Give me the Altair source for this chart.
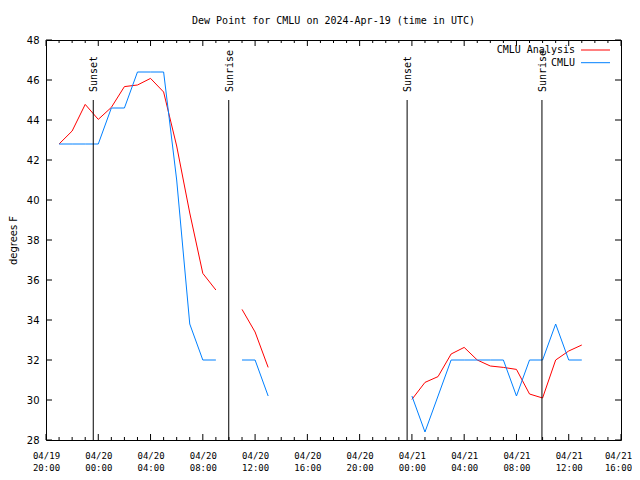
import altair as alt
import pandas as pd

chart_title = "Dew Point for CMLU on 2024-Apr-19 (time in UTC)"
y_title = "degrees F"
series_names = ["CMLU Analysis", "CMLU"]
series_colors = ["#ff0000", "#0080ff"]

times = [
    "2024-04-19T21:00:00Z", "2024-04-19T22:00:00Z", "2024-04-19T23:00:00Z",
    "2024-04-20T00:00:00Z", "2024-04-20T01:00:00Z", "2024-04-20T02:00:00Z",
    "2024-04-20T03:00:00Z", "2024-04-20T04:00:00Z", "2024-04-20T05:00:00Z",
    "2024-04-20T06:00:00Z", "2024-04-20T07:00:00Z", "2024-04-20T08:00:00Z",
    "2024-04-20T09:00:00Z",
    "2024-04-20T11:00:00Z", "2024-04-20T12:00:00Z", "2024-04-20T13:00:00Z",
    "2024-04-21T00:00:00Z", "2024-04-21T01:00:00Z", "2024-04-21T02:00:00Z",
    "2024-04-21T03:00:00Z", "2024-04-21T04:00:00Z", "2024-04-21T05:00:00Z",
    "2024-04-21T06:00:00Z", "2024-04-21T07:00:00Z", "2024-04-21T08:00:00Z",
    "2024-04-21T09:00:00Z", "2024-04-21T10:00:00Z", "2024-04-21T11:00:00Z",
    "2024-04-21T12:00:00Z", "2024-04-21T13:00:00Z",
]
analysis = [
    42.8, 43.45, 44.78, 44.03, 44.63, 45.67, 45.75, 46.08, 45.4, 42.7, 39.35, 36.33, 35.5,
    34.53, 33.4, 31.63,
    30.03, 30.88, 31.17, 32.3, 32.63, 32.0, 31.7, 31.63, 31.53, 30.3, 30.1, 32.0, 32.45, 32.75,
]
observed = [
    42.8, 42.8, 42.8, 42.8, 44.6, 44.6, 46.4, 46.4, 46.4, 41.0, 33.8, 32.0, 32.0,
    32.0, 32.0, 30.2,
    30.2, 28.4, 30.2, 32.0, 32.0, 32.0, 32.0, 32.0, 30.2, 32.0, 32.0, 33.8, 32.0, 32.0,
]

sun_labels = ["Sunset", "Sunrise", "Sunset", "Sunrise"]
sun_times = ["2024-04-19T23:37:00Z", "2024-04-20T09:59:00Z",
             "2024-04-20T23:38:00Z", "2024-04-21T09:57:00Z"]
sun_line_top = 45

x_start = "2024-04-19T20:00:00Z"
x_end = "2024-04-21T16:00:00Z"
y_ticks = list(range(28, 49, 2))

W, H = 575, 400

# ---- build tables ----
ts = pd.to_datetime(times, utc=True)
seg = [0]
for i in range(1, len(ts)):
    gap = (ts[i] - ts[i - 1]).total_seconds() / 3600
    seg.append(seg[-1] + (1 if gap > 1.01 else 0))

rows = []
for name, vals in zip(series_names, [analysis, observed]):
    for t, v, s in zip(times, vals, seg):
        rows.append({"time": t, "value": v, "series": name, "seg": f"{name}-{s}"})
df = pd.DataFrame(rows)

hours = pd.date_range(x_start, x_end, freq="1h")
tick_df = pd.DataFrame({"time": [h.strftime("%Y-%m-%dT%H:%M:%SZ") for h in hours],
                        "major": [(i % 4 == 0) for i in range(len(hours))]})
major_df = tick_df[tick_df.major]
minor_df = tick_df[~tick_df.major]
major_vals = [alt.DateTime(year=h.year, month=h.month, date=h.day, hours=h.hour, utc=True)
              for h in hours[::4]]

sun_df = pd.DataFrame({"time": sun_times, "label": sun_labels,
                       "top": [sun_line_top] * len(sun_times)})
ytick_df = pd.DataFrame({"value": y_ticks})

t0 = pd.Timestamp(x_start)
t1 = pd.Timestamp(x_end)
end_ms = int(t1.timestamp() * 1000)
xdomain = [alt.DateTime(year=t.year, month=t.month, date=t.day, hours=t.hour, utc=True) for t in (t0, t1)]
xscale = alt.Scale(type="utc", domain=xdomain)
yscale = alt.Scale(domain=[28, 48], nice=False, zero=False)

mono = "DejaVu Sans Mono"
sans = "DejaVu Sans"

x_axis = alt.Axis(values=major_vals, title=None, grid=False, domain=False,
                  ticks=False, labelFont=mono, labelFontSize=9,
                  labelColor="black", labelPadding=11, labelLineHeight=12,
                  labelFlush=False, labelOverlap=False,
                  labelOffset={"condition": {"test": f"datum.value >= {end_ms - 1}", "value": -3},
                               "value": 0},
                  labelExpr="[utcFormat(datum.value, '%m/%d'), utcFormat(datum.value, '%H:%M')]")
y_axis = alt.Axis(values=y_ticks, title=y_title, grid=False, domain=False,
                  ticks=False, labelFont=sans, labelFontSize=10, labelOverlap=False,
                  labelColor="black", labelPadding=7, titleFont=sans,
                  titleFontSize=10, titleFontWeight="normal", titleColor="black",
                  titlePadding=8, labelFlush=False, labelBound=False)

X = lambda: alt.X("time:T", scale=xscale, axis=x_axis)
Y = lambda f="value:Q": alt.Y(f, scale=yscale, axis=y_axis)

lines = alt.Chart(df).mark_line(strokeWidth=1, clip=True).encode(
    x=X(), y=Y(),
    color=alt.Color("series:N", scale=alt.Scale(domain=series_names, range=series_colors),
                    legend=None),
    detail="seg:N",
)

def xrule(data, y0, y1):
    return alt.Chart(data).mark_rule(color="black", strokeWidth=1).encode(
        x=X(), y=alt.value(y0), y2=alt.value(y1))

def yrule(x0, x1):
    return alt.Chart(ytick_df).mark_rule(color="black", strokeWidth=1).encode(
        y=Y(), x=alt.value(x0), x2=alt.value(x1))

ticks = [
    xrule(major_df, H, H - 6), xrule(major_df, 0, 6),
    xrule(minor_df, H, H - 3), xrule(minor_df, 0, 3),
    yrule(0, 6), yrule(W, W - 6),
]

sun_rules = alt.Chart(sun_df).mark_rule(color="black", strokeWidth=1).encode(
    x=X(), y=Y("top:Q"), y2=alt.value(H))
sun_text = alt.Chart(sun_df).mark_text(angle=270, align="left", baseline="middle",
                                       dx=8, dy=1, font=mono, fontSize=10, color="black").encode(
    x=X(), y=Y("top:Q"), text="label:N")

legend_layers = []
for i, (name, col) in enumerate(zip(series_names, series_colors)):
    ly = 10 + 12.7 * i
    legend_layers.append(
        alt.Chart(pd.DataFrame({"name": [name]})).mark_text(
            align="right", baseline="middle", font=mono, fontSize=10, color="black").encode(
            x=alt.value(529), y=alt.value(ly), text="name:N"))
    legend_layers.append(
        alt.Chart(pd.DataFrame({"name": [name]})).mark_rule(color=col, strokeWidth=1).encode(
            x=alt.value(535), x2=alt.value(564), y=alt.value(ly)))

chart = alt.layer(lines, sun_rules, sun_text, *ticks, *legend_layers).properties(
    width=W, height=H,
    title=alt.TitleParams(text=chart_title, font=mono, fontSize=10, fontWeight="normal",
                          anchor="middle", offset=9, color="black"),
    autosize=alt.AutoSizeParams(type="none"),
    padding={"left": 38, "top": 32, "right": 11, "bottom": 32},
    background="white",
).configure_view(stroke="black", strokeWidth=1).configure_axisY(labelOverlap=False)

chart.save("out.html", embed_options={"renderer": "svg", "actions": False})
